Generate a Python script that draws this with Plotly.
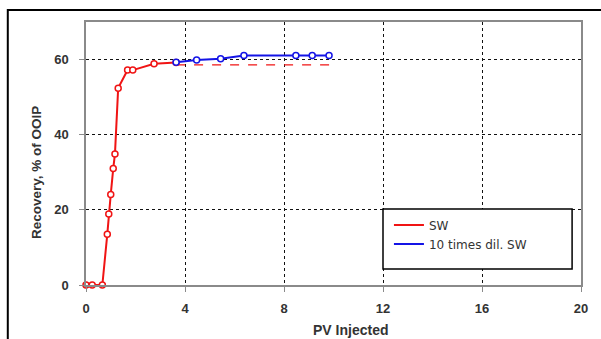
import plotly.graph_objects as go

# SW (red) measured points
sw_x = [0, 0.25, 0.66, 0.86, 0.92, 1.0, 1.1, 1.17, 1.3, 1.68, 1.89, 2.75, 3.64]
sw_y = [0, 0, 0, 13.5, 18.9, 24.1, 31.0, 34.9, 52.4, 57.2, 57.2, 58.9, 59.2]

# SW extrapolation (red dashed)
sw_ext_x = [3.64, 9.94]
sw_ext_y = [58.6, 58.6]

# 10 times diluted SW (blue)
dil_x = [3.64, 4.47, 5.44, 6.38, 8.48, 9.14, 9.82]
dil_y = [59.3, 59.9, 60.2, 61.1, 61.1, 61.1, 61.1]

x_ticks = [0, 4, 8, 12, 16, 20]
y_ticks = [0, 20, 40, 60]

RED = "#f01414"
BLUE = "#1414e6"

fig = go.Figure()

fig.add_trace(go.Scatter(x=sw_ext_x, y=sw_ext_y, mode="lines",
                         line=dict(color=RED, width=1.2, dash="dash"),
                         showlegend=False, hoverinfo="skip"))
fig.add_trace(go.Scatter(x=sw_x, y=sw_y, mode="lines+markers",
                         line=dict(color=RED, width=2),
                         marker=dict(symbol="circle", size=6, color="white",
                                     line=dict(color=RED, width=1.5)),
                         showlegend=False, cliponaxis=False))
fig.add_trace(go.Scatter(x=dil_x, y=dil_y, mode="lines+markers",
                         line=dict(color=BLUE, width=2),
                         marker=dict(symbol="circle", size=6, color="white",
                                     line=dict(color=BLUE, width=1.5)),
                         showlegend=False))

# legend-only entries (lines, no markers)
fig.add_trace(go.Scatter(x=[None], y=[None], mode="lines", name="SW",
                         line=dict(color=RED, width=2)))
fig.add_trace(go.Scatter(x=[None], y=[None], mode="lines", name="10 times dil. SW",
                         line=dict(color=BLUE, width=2)))

axis_common = dict(
    showline=True, linecolor="#8a8a8a", linewidth=1.5, mirror=True,
    showgrid=True, gridcolor="#111111", gridwidth=1, griddash="dot",
    ticks="outside", ticklen=5, tickcolor="#8a8a8a", tickwidth=1.2,
    tickfont=dict(family="Liberation Sans, Arial", size=13, color="#333333", weight="bold"),
    zeroline=False,
)

fig.update_xaxes(range=[0, 20], tickvals=x_ticks, ticktext=[str(v) for v in x_ticks],
                 ticklabelstandoff=6, **axis_common)
fig.update_yaxes(range=[0, 70], tickvals=y_ticks, ticktext=[str(v) for v in y_ticks],
                 ticklabelstandoff=8, **axis_common)

fig.update_layout(
    width=601, height=339,
    margin=dict(l=86, r=20, t=22, b=54),
    paper_bgcolor="white", plot_bgcolor="white",
    showlegend=True,
    legend=dict(x=0.612, y=0.283, xanchor="left", yanchor="top",
                bgcolor="rgba(0,0,0,0)", borderwidth=0,
                font=dict(family="DejaVu Sans", size=12, color="#333333"),
                itemwidth=30, tracegroupgap=0),
    shapes=[
        # legend box
        dict(type="rect", xref="paper", yref="paper",
             x0=0.6, x1=0.982, y0=0.061, y1=0.289,
             line=dict(color="black", width=1.5), fillcolor="white", layer="above"),
        # outer frame
        dict(type="rect", xref="paper", yref="paper",
             x0=-0.158, x1=1.2, y0=-0.5, y1=1.0456,
             line=dict(color="black", width=2), fillcolor="rgba(0,0,0,0)", layer="above"),
    ],
    annotations=[
        dict(text="<b>Recovery, % of OOIP</b>", xref="paper", yref="paper",
             x=(36 - 86) / 495, y=(285 - 173) / 263, textangle=-90, showarrow=False,
             xanchor="center", yanchor="middle",
             font=dict(family="Liberation Sans, Arial", size=13.5, color="#333333")),
        dict(text="<b>PV Injected</b>", xref="paper", yref="paper",
             x=(350 - 86) / 495, y=(285 - 330) / 263, showarrow=False,
             xanchor="center", yanchor="middle",
             font=dict(family="Liberation Sans, Arial", size=14, color="#333333")),
    ],
)

fig.write_html("out.html")
